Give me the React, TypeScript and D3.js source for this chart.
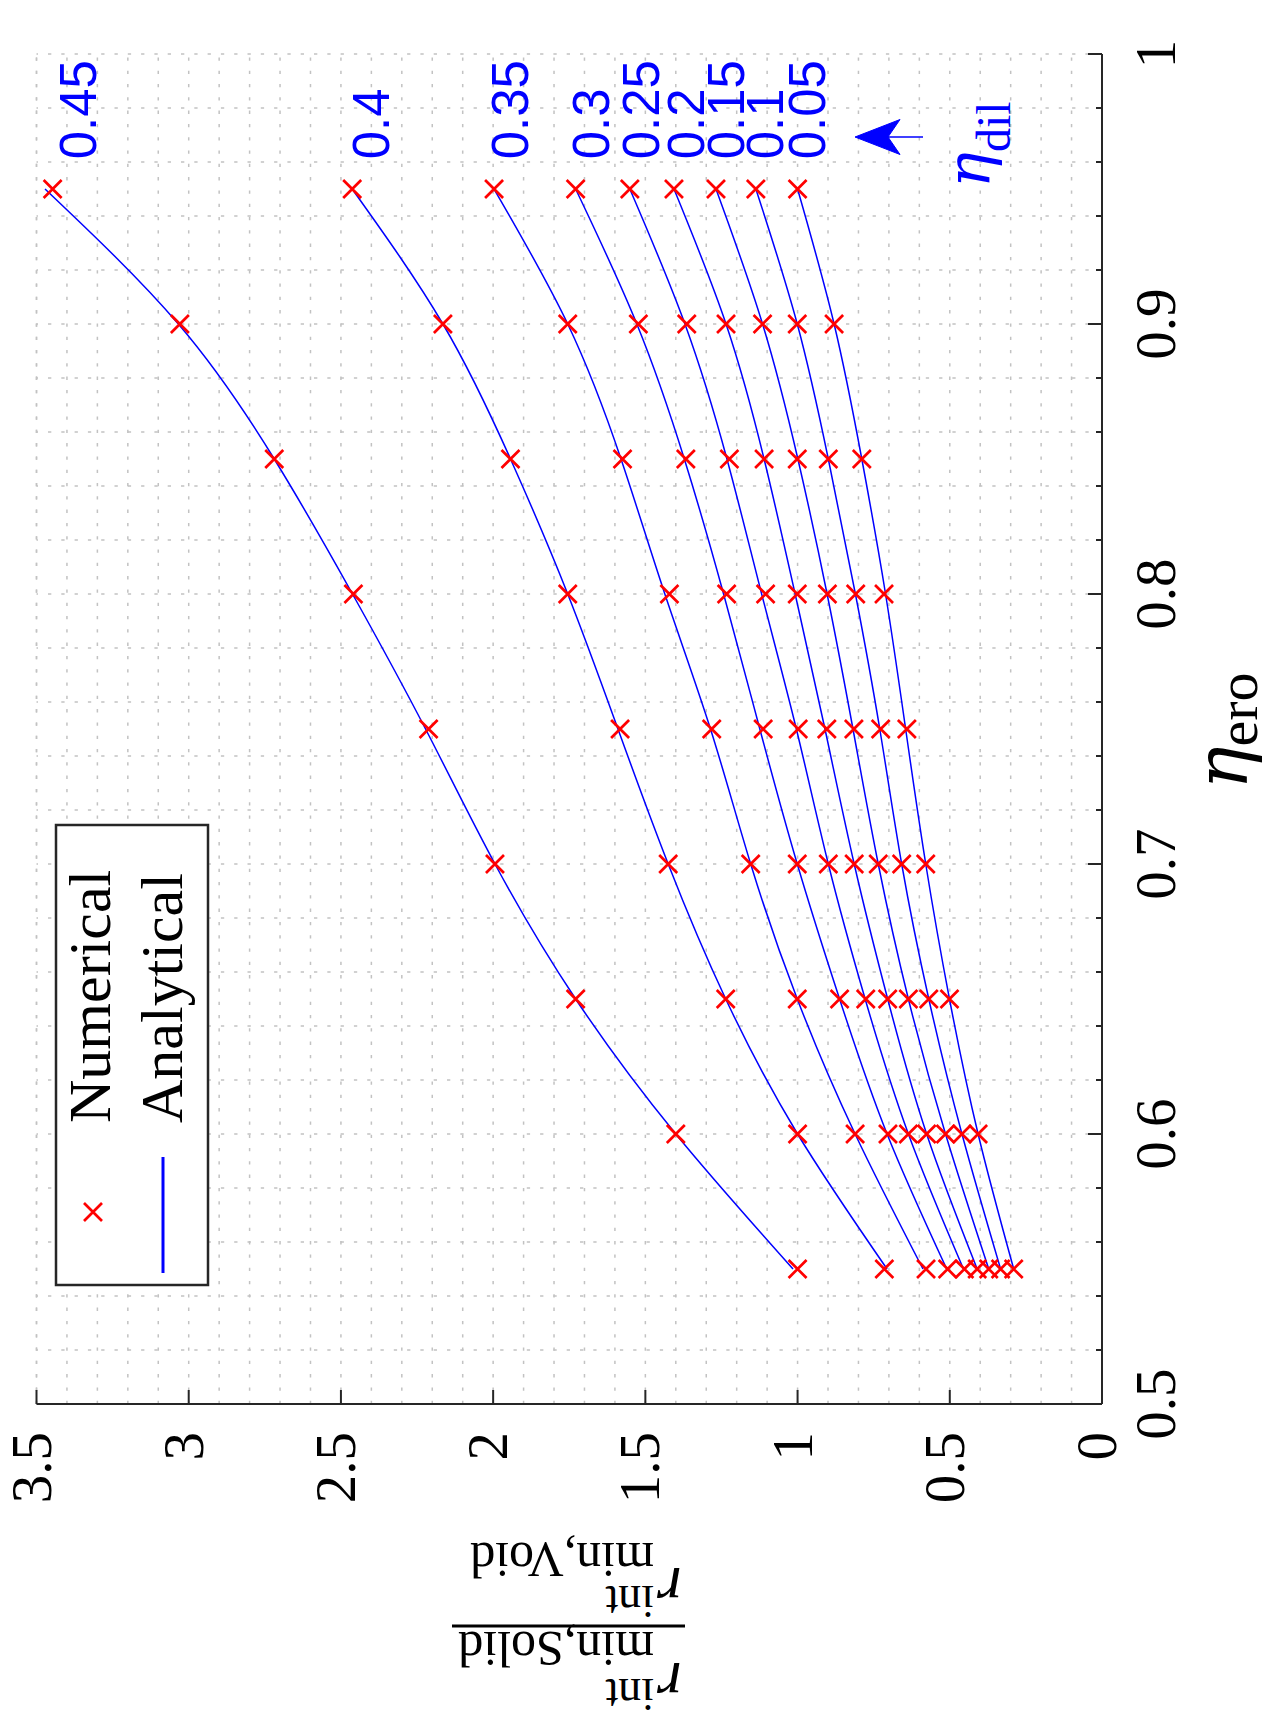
import React from 'react';
import * as d3 from 'd3';

// eta_ero sample points (x axis of the unrotated chart)
const etaEro = [0.55, 0.6, 0.65, 0.7, 0.75, 0.8, 0.85, 0.9, 0.95];
const etaDil = [0.05, 0.1, 0.15, 0.2, 0.25, 0.3, 0.35, 0.4, 0.45];
const dilLabels = ['0.05', '0.1', '0.15', '0.2', '0.25', '0.3', '0.35', '0.4', '0.45'];

// numerical results (red crosses), one array per eta_dil
const num05 = [0.29, 0.407, 0.501, 0.579, 0.641, 0.716, 0.789, 0.88, 1.0];
const num10 = [0.333, 0.46, 0.569, 0.658, 0.727, 0.809, 0.899, 1.001, 1.137];
const num15 = [0.372, 0.514, 0.636, 0.735, 0.815, 0.902, 1.001, 1.115, 1.268];
const num20 = [0.41, 0.576, 0.704, 0.814, 0.904, 1.001, 1.11, 1.235, 1.406];
const num25 = [0.452, 0.636, 0.776, 0.899, 0.998, 1.105, 1.224, 1.364, 1.551];
const num30 = [0.507, 0.703, 0.862, 1.001, 1.113, 1.233, 1.367, 1.523, 1.729];
const num35 = [0.578, 0.811, 1.001, 1.154, 1.282, 1.421, 1.575, 1.755, 1.997];
const num40 = [0.715, 1.0, 1.236, 1.425, 1.583, 1.755, 1.943, 2.165, 2.463];
const num45 = [1.0, 1.4, 1.729, 1.994, 2.212, 2.459, 2.719, 3.029, 3.447];

// analytical curves (blue lines)
const ana05 = [0.29, 0.407, 0.501, 0.579, 0.645, 0.711, 0.789, 0.88, 1.0];
const ana10 = [0.333, 0.46, 0.569, 0.658, 0.73, 0.81, 0.899, 1.001, 1.137];
const ana15 = [0.372, 0.514, 0.636, 0.735, 0.818, 0.903, 0.999, 1.115, 1.268];
const ana20 = [0.41, 0.576, 0.704, 0.814, 0.91, 1.008, 1.11, 1.235, 1.406];
const ana25 = [0.455, 0.636, 0.778, 0.899, 1.004, 1.118, 1.232, 1.37, 1.551];
const ana30 = [0.51, 0.706, 0.862, 1.001, 1.124, 1.243, 1.372, 1.528, 1.729];
const ana35 = [0.588, 0.811, 1.001, 1.154, 1.286, 1.436, 1.58, 1.755, 1.997];
const ana40 = [0.706, 1.0, 1.236, 1.425, 1.59, 1.755, 1.943, 2.165, 2.463];
const ana45 = [1.015, 1.4, 1.729, 1.994, 2.222, 2.462, 2.719, 3.034, 3.472];

// where the eta_dil labels sit (data coordinates)
const labelRatio = [0.967, 1.107, 1.235, 1.367, 1.513, 1.679, 1.945, 2.402, 3.364];
const labelEta = 0.961;

const etaTicks = [0.5, 0.6, 0.7, 0.8, 0.9, 1];
const etaTickLabels = ['0.5', '0.6', '0.7', '0.8', '0.9', '1'];
const ratioTicks = [0, 0.5, 1, 1.5, 2, 2.5, 3, 3.5];
const ratioTickLabels = ['0', '0.5', '1', '1.5', '2', '2.5', '3', '3.5'];

const numerical = [num05, num10, num15, num20, num25, num30, num35, num40, num45];
const analytical = [ana05, ana10, ana15, ana20, ana25, ana30, ana35, ana40, ana45];

const W = 1270;
const H = 1731;
const serif = '"Liberation Serif", "DejaVu Serif", serif';
const greek = '"DejaVu Serif", "Liberation Serif", serif';
const sans = '"Liberation Sans", Arial, sans-serif';
const axisColor = '#262626';
const gridColor = '#c2c2c2';

const App: React.FC = () => {
  // chart is drawn upright, then the whole thing is turned 90deg counter-clockwise
  const x = d3.scaleLinear().domain([0.5, 1]).range([327, 1677]);
  const y = d3.scaleLinear().domain([0, 3.5]).range([1102, 36.5]);

  const etaGrid = d3.range(0, 26).map(i => 0.5 + i * 0.02);
  const ratioGrid = d3.range(0, 36).map(i => i * 0.1);

  const line = d3.line<number>()
    .x((_, i) => x(etaEro[i]))
    .y(d => y(d))
    .curve(d3.curveNatural);

  const cross = 'M-9,-9L9,9M-9,9L9,-9';

  return (
    <svg width={W} height={H} style={{ position: 'absolute', left: 0, top: 0, background: '#fff' }}>
      <rect width={W} height={H} fill="#fff" />
      <g transform={`translate(0,${H}) rotate(-90)`}>
        {/* grid */}
        <g stroke={gridColor} strokeWidth={1.5} strokeDasharray="3.3,10">
          {etaGrid.map((e, i) => (
            <line key={'ge' + i} x1={x(e)} x2={x(e)} y1={y(0)} y2={y(3.5)} />
          ))}
          {ratioGrid.map((r, i) => (
            <line key={'gr' + i} x1={x(0.5)} x2={x(1)} y1={y(r)} y2={y(r)} />
          ))}
          <line x1={x(0.5)} x2={x(1)} y1={y(3.5)} y2={y(3.5)} />
        </g>

        {/* analytical curves */}
        {analytical.map((s, i) => (
          <path key={'a' + i} d={line(s) || ''} fill="none" stroke="#0000ff" strokeWidth={1.5} />
        ))}

        {/* numerical points */}
        {numerical.map((s, i) => (
          <g key={'n' + i}>
            {s.map((v, j) => (
              <path key={j} d={cross} transform={`translate(${x(etaEro[j])},${y(v)})`}
                stroke="#ff0000" strokeWidth={2.7} fill="none" />
            ))}
          </g>
        ))}

        {/* axes */}
        <g stroke={axisColor} strokeWidth={2} fill="none">
          <line x1={x(0.5)} x2={x(1)} y1={y(0)} y2={y(0)} />
          <line x1={x(0.5)} x2={x(0.5)} y1={y(0)} y2={y(3.5)} />
          {etaTicks.map((e, i) => (
            <line key={'te' + i} x1={x(e)} x2={x(e)} y1={y(0)} y2={y(0) - 14} />
          ))}
          {etaGrid.map((e, i) => (
            <line key={'tm' + i} x1={x(e)} x2={x(e)} y1={y(0)} y2={y(0) - 6} />
          ))}
          {ratioTicks.map((r, i) => (
            <line key={'tr' + i} x1={x(0.5)} x2={x(0.5) + 14} y1={y(r)} y2={y(r)} />
          ))}
        </g>

        {/* tick labels */}
        <g fontFamily={serif} fontSize={57} fill="#000">
          {etaTicks.map((e, i) => (
            <text key={'le' + i} x={x(e)} y={1175} textAnchor="middle">{etaTickLabels[i]}</text>
          ))}
          {ratioTicks.map((r, i) => (
            <text key={'lr' + i} x={299} y={y(r)} dy={14} textAnchor="end">{ratioTickLabels[i]}</text>
          ))}
        </g>

        {/* x label */}
        <text x={1000} y={1247} textAnchor="middle" fill="#000">
          <tspan fontFamily={greek} fontStyle="italic" fontSize={72}>η</tspan>
          <tspan fontFamily={serif} fontSize={58} dy={10}>ero</tspan>
        </text>

        {/* y label: fraction */}
        <g transform="translate(105,569) rotate(-90)" fontFamily={serif} fill="#000">
          <text x={-113} y={-37} fontStyle="italic" fontSize={64}>r</text>
          <text x={-85} y={-53} fontSize={46}>int</text>
          <text x={-85} y={-6} fontSize={50}>min,Solid</text>
          <line x1={-116} x2={117} y1={0} y2={0} stroke="#000" strokeWidth={3} />
          <text x={-113} y={58} fontStyle="italic" fontSize={64}>r</text>
          <text x={-85} y={40} fontSize={46}>int</text>
          <text x={-85} y={83} fontSize={50}>min,Void</text>
        </g>

        {/* eta_dil labels */}
        <g fontFamily={sans} fontSize={51} fill="#0000ff">
          {dilLabels.map((t, i) => (
            <text key={'dl' + i} x={x(labelEta)} y={y(labelRatio[i])} dy="0.35em">{t}</text>
          ))}
        </g>

        {/* eta_dil arrow */}
        <g fill="#0000ff" stroke="#0000ff">
          <line x1={1594} x2={1594} y1={923} y2={888} strokeWidth={1.5} />
          <path d="M1594,855L1576.5,900L1594,888L1611.5,900Z" strokeWidth={1} />
        </g>
        <text x={1543} y={990} fill="#0000ff">
          <tspan fontFamily={greek} fontStyle="italic" fontSize={60}>η</tspan>
          <tspan fontFamily={serif} fontSize={48} dy={20}>dil</tspan>
        </text>

        {/* legend */}
        <g>
          <rect x={446} y={56} width={460} height={152} fill="#fff" stroke={axisColor} strokeWidth={2.5} />
          <path d={cross} transform="translate(519,93)" stroke="#ff0000" strokeWidth={2.7} fill="none" />
          <line x1={458} x2={574} y1={163} y2={163} stroke="#0000ff" strokeWidth={3} />
          <text x={608} y={110} fontFamily={serif} fontSize={60} fill="#000">Numerical</text>
          <text x={608} y={182} fontFamily={serif} fontSize={60} fill="#000">Analytical</text>
        </g>
      </g>
    </svg>
  );
};

export default App;
